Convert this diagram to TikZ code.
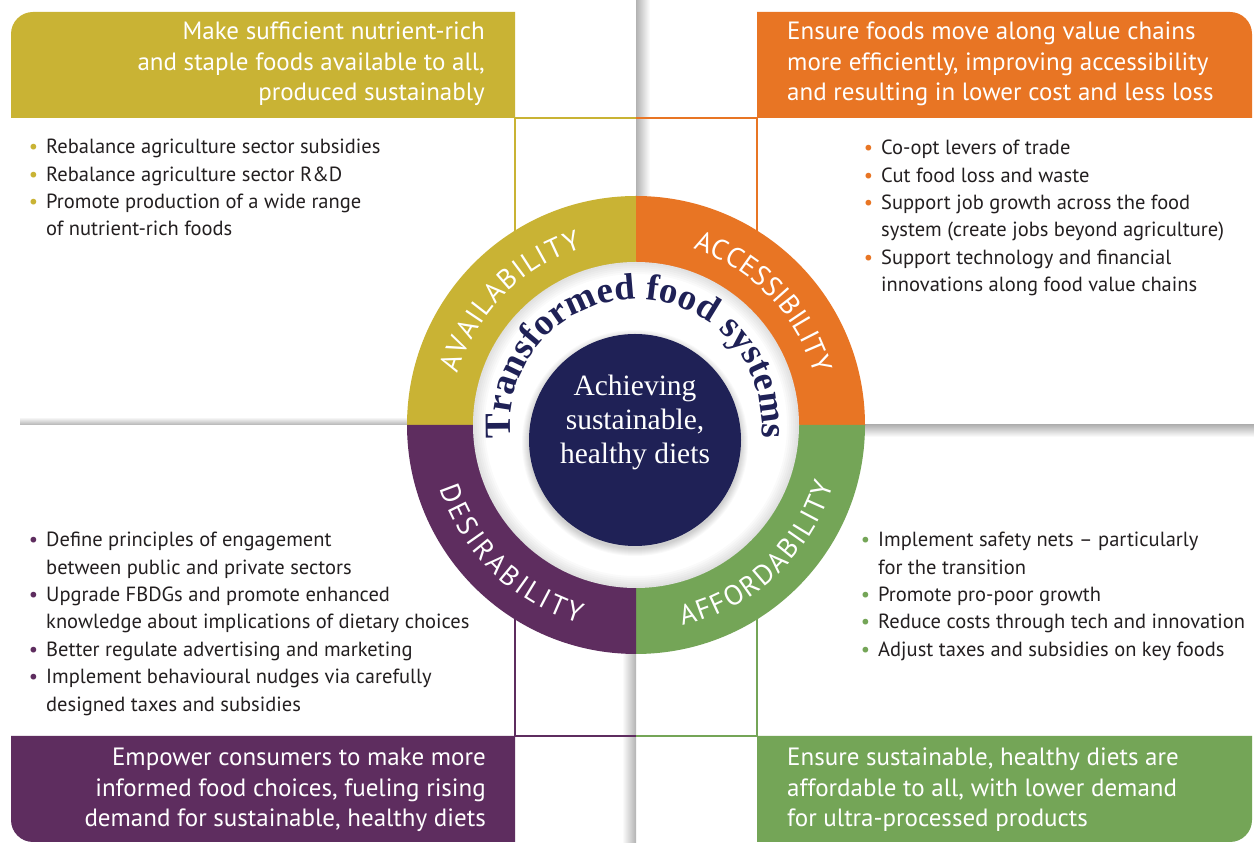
\documentclass[tikz,border=0pt]{standalone}
\usepackage{fontspec}
\newfontfamily\bodyfont{PT Sans}
\newfontfamily\serifont{Liberation Serif}
\usetikzlibrary{decorations.text}
\definecolor{yel}{HTML}{C9B334}
\definecolor{org}{HTML}{E87524}
\definecolor{pur}{HTML}{5E2D5F}
\definecolor{grn}{HTML}{74A557}
\definecolor{navy}{HTML}{1F2156}
\definecolor{ink}{HTML}{231F20}
\newcommand\bul[1]{\llap{\textcolor{#1}{\textbullet}\hspace{8pt}}}
\begin{document}
\begin{tikzpicture}[x=1pt,y=1pt,
  head/.style={font=\bodyfont\fontsize{25}{30.5}\selectfont, text=white, inner sep=0pt},
  body/.style={font=\bodyfont\fontsize{20.5}{27.4}\selectfont, text=ink, inner sep=0pt, align=left, anchor=north west},
  link/.style={line width=2pt}]
\useasboundingbox (0,0) rectangle (1254,843);
\fill[white] (0,0) rectangle (1254,843);
\coordinate (C) at (636,418);
\coordinate (N) at (635,403);

% fold shadows
\shade[left color=black!30, right color=white] (636,640) rectangle (650,843);
\shade[left color=white, right color=black!30] (622,0) rectangle (636,195);
\shade[top color=white, bottom color=black!30] (20,418) rectangle (420,426);
\shade[top color=black!30, bottom color=white] (850,406) rectangle (1254,418);

% header boxes
\fill[yel] (515,725) -- (11,725) -- (11,809) arc[start angle=180,end angle=90,radius=22] -- (515,831) -- cycle;
\fill[org] (757,725) -- (1252,725) -- (1252,809) arc[start angle=0,end angle=90,radius=22] -- (757,831) -- cycle;
\fill[pur] (515,107) -- (11,107) -- (11,23) arc[start angle=180,end angle=270,radius=22] -- (515,1) -- cycle;
\fill[grn] (757,107) -- (1252,107) -- (1252,23) arc[start angle=0,end angle=-90,radius=22] -- (757,1) -- cycle;

% connecting lines
\draw[link, yel] (515,726) -- (515,418);
\draw[link, yel] (514,725) -- (636,725);
\draw[link, org] (757,726) -- (757,418);
\draw[link, org] (636,725) -- (758,725);
\draw[link, pur] (515,106) -- (515,418);
\draw[link, pur] (514,107) -- (636,107);
\draw[link, grn] (757,106) -- (757,418);
\draw[link, grn] (636,107) -- (758,107);

% ring
\fill[yel] (C) -- ++(180:229) arc[start angle=180,end angle=90,radius=229] -- cycle;
\fill[org] (C) -- ++(90:229) arc[start angle=90,end angle=0,radius=229] -- cycle;
\fill[grn] (C) -- ++(0:229) arc[start angle=0,end angle=-90,radius=229] -- cycle;
\fill[pur] (C) -- ++(-90:229) arc[start angle=-90,end angle=-180,radius=229] -- cycle;
\fill[white] (C) circle[radius=163];
\foreach \i in {1,...,6}
  \fill[black, opacity=0.018, even odd rule] (C) circle[radius=163] (C) circle[radius=163-2*\i];

% centre disc
\foreach \i in {1,...,8}
  \fill[black, opacity=0.025] ([yshift=-3pt]N) circle[radius=105+\i];
\fill[navy] (N) circle[radius=106];
\node[font=\serifont\fontsize{29.5}{34}\selectfont, text=white, align=center] (ctext) at (635,421)
  {Achieving\\sustainable,\\healthy diets};

% arc texts
\path[decorate, decoration={text along path, text align={fit to path},
  text={|\serifont\bfseries\fontsize{37}{37}\selectfont\color{navy}|Transformed food systems}}]
  (C) ++(186:126) arc[start angle=186, end angle=-6, radius=126];
\path[decorate, decoration={text along path, text align={fit to path},
  text={|\bodyfont\fontsize{28}{28}\selectfont\color{white}|AVAILABILITY}}]
  (C) ++(164:185) arc[start angle=164, end angle=107, radius=185];
\path[decorate, decoration={text along path, text align={fit to path},
  text={|\bodyfont\fontsize{28}{28}\selectfont\color{white}|ACCESSIBILITY}}]
  (C) ++(72:185) arc[start angle=72, end angle=16, radius=185];
\path[decorate, decoration={text along path, text align={fit to path},
  text={|\bodyfont\fontsize{28}{28}\selectfont\color{white}|DESIRABILITY}}]
  (C) ++(198:206) arc[start angle=198, end angle=254, radius=206];
\path[decorate, decoration={text along path, text align={fit to path},
  text={|\bodyfont\fontsize{28}{28}\selectfont\color{white}|AFFORDABILITY}}]
  (C) ++(283:206) arc[start angle=283, end angle=343, radius=206];

% header texts
\node[head, align=right, anchor=north east] (h1) at (485,821)
  {Make sufficient nutrient-rich\\and staple foods available to all,\\produced sustainably};
\node[head, align=left, anchor=north west] (h2) at (787,821)
  {Ensure foods move along value chains\\more efficiently, improving accessibility\\and resulting in lower cost and less loss};
\node[head, align=right, anchor=north east] (h3) at (486,95)
  {Empower consumers to make more\\informed food choices, fueling rising\\demand for sustainable, healthy diets};
\node[head, align=left, anchor=north west] (h4) at (787,95)
  {Ensure sustainable, healthy diets are\\affordable to all, with lower demand\\for ultra-processed products};

% bullet lists
\node[body] (b1) at (46,704)
  {\bul{yel}Rebalance agriculture sector subsidies\\
   \bul{yel}Rebalance agriculture sector R\&D\\
   \bul{yel}Promote production of a wide range\\
   of nutrient-rich foods};
\node[body] (b2) at (881,703)
  {\bul{org}Co-opt levers of trade\\
   \bul{org}Cut food loss and waste\\
   \bul{org}Support job growth across the food\\
   system (create jobs beyond agriculture)\\
   \bul{org}Support technology and financial\\
   innovations along food value chains};
\node[body] (b3) at (46,311)
  {\bul{pur}Define principles of engagement\\
   between public and private sectors\\
   \bul{pur}Upgrade FBDGs and promote enhanced\\
   knowledge about implications of dietary choices\\
   \bul{pur}Better regulate advertising and marketing\\
   \bul{pur}Implement behavioural nudges via carefully\\
   designed taxes and subsidies};
\node[body] (b4) at (878,311)
  {\bul{grn}Implement safety nets \textendash{} particularly\\
   for the transition\\
   \bul{grn}Promote pro-poor growth\\
   \bul{grn}Reduce costs through tech and innovation\\
   \bul{grn}Adjust taxes and subsidies on key foods};
\end{tikzpicture}
\end{document}
